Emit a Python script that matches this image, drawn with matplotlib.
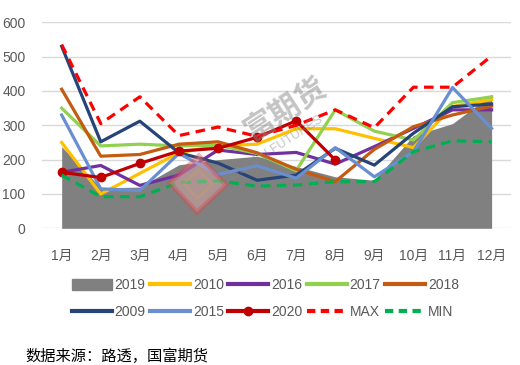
import matplotlib
matplotlib.use("Agg")
import matplotlib.pyplot as plt
from matplotlib.patches import Patch, Rectangle
from matplotlib.lines import Line2D
import matplotlib.transforms as mtransforms

plt.rcParams['font.family'] = ['Liberation Sans', 'Noto Sans CJK SC', 'DejaVu Sans']

months = ['1月', '2月', '3月', '4月', '5月', '6月', '7月', '8月', '9月', '10月', '11月', '12月']

y2019 = [238, 118, 120, 185, 200, 210, 180, 150, 140, 270, 305, 390]
y2010 = [250, 100, 160, 220, 240, 245, 290, 290, 262, 235, 355, 375]
y2016 = [163, 183, 125, 155, 228, 215, 221, 187, 238, 291, 345, 345]
y2017 = [350, 240, 245, 240, 242, 218, 168, 345, 283, 257, 366, 383]
y2018 = [405, 210, 215, 245, 252, 220, 172, 136, 230, 296, 330, 356]
y2009 = [530, 252, 312, 220, 190, 140, 155, 233, 184, 277, 354, 362]
y2015 = [330, 115, 110, 218, 157, 182, 146, 235, 150, 223, 410, 291]
y2020 = [163, 148, 189, 225, 233, 265, 313, 199]
ymax = [535, 305, 383, 270, 295, 268, 300, 345, 293, 411, 411, 502]
ymin = [155, 92, 92, 133, 138, 123, 126, 136, 136, 223, 255, 252]

fig = plt.figure(figsize=(5.2, 3.65), dpi=100)
ax = fig.add_axes([0.081, 0.3745, 0.902, 0.5644])

x = list(range(12))
ax.fill_between(x, 0, y2019, color='#808080', lw=0, zorder=2)

lw = 2.3
ax.plot(x, y2010, color='#FFC000', lw=lw, zorder=3)
ax.plot(x, y2016, color='#7030A0', lw=lw, zorder=3)
ax.plot(x, y2017, color='#92D050', lw=lw, zorder=3)
ax.plot(x, y2018, color='#C55A11', lw=lw, zorder=3)
ax.plot(x, y2009, color='#264478', lw=lw, zorder=3)
ax.plot(x, y2015, color='#6A8FD0', lw=lw, zorder=3)
ax.plot(x[:len(y2020)], y2020, color='#C00000', lw=lw, marker='o', ms=6, zorder=4)
ax.plot(x, ymax, color='#FF0000', lw=lw, ls=(0, (3, 2)), zorder=5)
ax.plot(x, ymin, color='#00B050', lw=lw, ls=(0, (3, 2)), zorder=5)

# watermark: red square logo (figure pixels) + company name
rot = mtransforms.Affine2D().rotate_deg_around(198, 181, 43)
fig.add_artist(Rectangle((178, 161), 40, 40, fc='#f4b0b0', ec='#d94a4a', lw=3.5,
                         alpha=0.4, transform=rot, zorder=6))
fig.add_artist(Rectangle((188, 171), 20, 20, fill=False, ec='#c8a060', lw=2,
                         alpha=0.35, transform=rot, zorder=6))
ax.text(5.75, 345, '富期货', fontsize=22, color='#8a8a8a', alpha=0.5,
        rotation=33, ha='center', va='center', zorder=6, fontweight='bold')
ax.text(5.5, 235, 'GUOFU FUTURES', fontsize=9, color='#8a8a8a', alpha=0.5,
        rotation=33, ha='center', va='center', zorder=6)

ax.set_xlim(-0.5, 11.5)
ax.set_ylim(0, 600)
ax.set_yticks(range(0, 601, 100))
ax.set_xticks(x)
ax.set_xticklabels(months)
ax.grid(axis='y', color='#d9d9d9', lw=1)
ax.set_axisbelow(True)
for s in ax.spines.values():
    s.set_visible(False)
ax.tick_params(length=0, colors='#595959', labelsize=10)
ax.tick_params(axis='x', pad=15)
ax.tick_params(axis='y', pad=12)

handles = [
    Patch(color='#808080', label='2019'),
    Line2D([], [], color='#264478', lw=3, label='2009'),
    Line2D([], [], color='#FFC000', lw=3, label='2010'),
    Line2D([], [], color='#6A8FD0', lw=3, label='2015'),
    Line2D([], [], color='#7030A0', lw=3, label='2016'),
    Line2D([], [], color='#C00000', lw=3, marker='o', ms=6, label='2020'),
    Line2D([], [], color='#92D050', lw=3, label='2017'),
    Line2D([], [], color='#FF0000', lw=3, ls=(0, (2, 1.3)), label='MAX'),
    Line2D([], [], color='#C55A11', lw=3, label='2018'),
    Line2D([], [], color='#00B050', lw=3, ls=(0, (2, 1.3)), label='MIN'),
]
fig.legend(handles=handles, ncol=5, loc='center', bbox_to_anchor=(0.51, 0.182),
           frameon=False, fontsize=10, handlelength=2.9, handleheight=0.9,
           handletextpad=0.2, columnspacing=0.3, labelspacing=0.9,
           labelcolor='#595959')

fig.text(0.048, 0.012, '数据来源：路透，国富期货', fontsize=11,
         family=['Noto Sans CJK SC'], color='black')

fig.savefig('out.png', dpi=100)
